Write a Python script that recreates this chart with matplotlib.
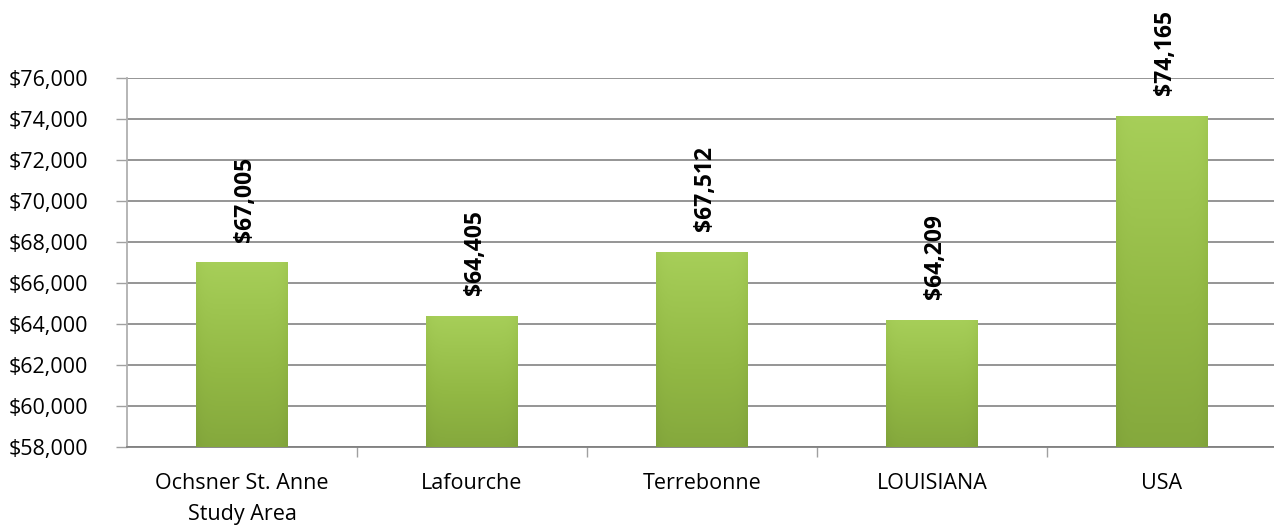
import numpy as np
import matplotlib
matplotlib.use("Agg")
import matplotlib.pyplot as plt
from matplotlib.ticker import FuncFormatter, FixedLocator, MultipleLocator
from matplotlib.colors import LinearSegmentedColormap

# data
categories = ["Ochsner St. Anne\nStudy Area", "Lafourche", "Terrebonne", "LOUISIANA", "USA"]
values = [67005, 64405, 67512, 64209, 74165]
value_labels = ["$67,005", "$64,405", "$67,512", "$64,209", "$74,165"]

plt.rcParams["font.family"] = ["Open Sans", "DejaVu Sans"]


def money(v, _):
    return "${:,.0f}".format(v)


fig = plt.figure(figsize=(12.74, 5.31), dpi=100)
ax = fig.add_axes([127 / 1274, 84 / 531, 1150 / 1274, 369 / 531])

x = np.arange(len(values))
bar_w = 0.4
ymin, ymax = 58000, 76000

bars = ax.bar(x, values, width=bar_w, color="none", edgecolor="none", zorder=3)

# green gradient fill, lighter on top, darker toward bottom and edges
cmap = LinearSegmentedColormap.from_list("grn", ["#7c9e38", "#92b844", "#a9d15b"])
for b in bars:
    x0, w = b.get_x(), b.get_width()
    top = b.get_height()
    yy = np.linspace(0, 1, 200)[:, None]
    xx = np.linspace(-1, 1, 60)[None, :]
    grad = yy * 0.75 + 0.2 - 0.12 * np.abs(xx) ** 8
    im = ax.imshow(grad, cmap=cmap, vmin=0, vmax=1, origin="lower", aspect="auto",
                   extent=[x0, x0 + w, ymin, top], zorder=3)
    im.set_clip_path(b)

for xi, v, lab in zip(x, values, value_labels):
    ax.annotate(lab, (xi, v), xytext=(2, 15), textcoords="offset points",
                rotation=90, ha="center", va="bottom", fontsize=16.5,
                fontweight="bold", color="black", annotation_clip=False)

ax.set_xlim(-0.5, len(values) - 0.5)
ax.set_ylim(ymin, ymax)
ax.yaxis.set_major_locator(MultipleLocator(2000))
ax.yaxis.set_major_formatter(FuncFormatter(money))
ax.grid(axis="y", color="#8c8c8c", linewidth=1.3, zorder=1)
ax.set_axisbelow(True)

# category labels centered, tick marks between categories
ax.set_xticks(x)
ax.set_xticklabels(categories, fontsize=15.5, linespacing=1.6)
ax.tick_params(axis="x", length=0, pad=19)
ax.xaxis.set_minor_locator(FixedLocator(np.arange(0.5, len(values) - 0.5, 1)))
ax.tick_params(axis="x", which="minor", length=7, color="#a0a0a0", width=1)
ax.tick_params(axis="y", length=8, color="#a0a0a0", width=1, labelsize=15.5, pad=20)

for s in ["top", "right"]:
    ax.spines[s].set_visible(False)
ax.spines["left"].set_color("#b0b0b0")
ax.spines["left"].set_linewidth(1.3)
ax.spines["bottom"].set_color("#808080")
ax.spines["bottom"].set_linewidth(1.3)

fig.savefig("out.png", dpi=100)
